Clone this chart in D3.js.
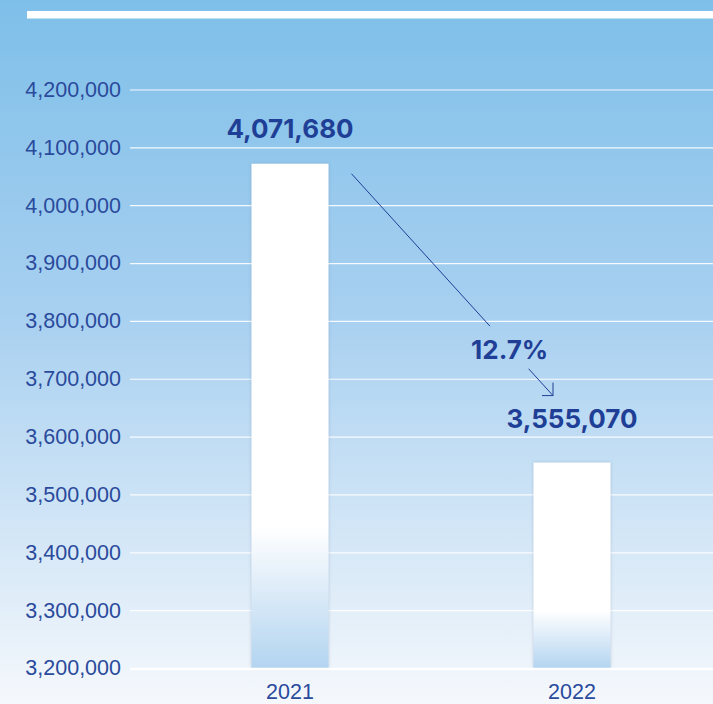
<!DOCTYPE html>
<html>
<head>
<meta charset="utf-8">
<script src="https://cdn.jsdelivr.net/npm/d3@7"></script>
<style>
  html, body { margin: 0; padding: 0; }
  body { width: 713px; height: 704px; overflow: hidden; }
  svg { display: block; font-family: Inter, "Noto Sans", sans-serif; }
</style>
</head>
<body>
<div id="chart"></div>
<script>
// data
const years = ['2021', '2022'];
const visitors = [4071680, 3555070];
const changeLabel = '12.7%';
const yTicks = [3200000, 3300000, 3400000, 3500000, 3600000, 3700000,
  3800000, 3900000, 4000000, 4100000, 4200000];

const width = 713;
const height = 704;
const left = 130;
const textColor = '#2a4a9c';
const boldColor = '#1f3f96';

const svg = d3.select('#chart')
  .append('svg')
  .attr('width', width)
  .attr('height', height);

const defs = svg.append('defs');

// page background
const bg = defs.append('linearGradient')
  .attr('id', 'bg')
  .attr('x1', 0).attr('y1', 0).attr('x2', 0).attr('y2', 1);
bg.append('stop').attr('offset', '0%').attr('stop-color', '#7ebfe9');
bg.append('stop').attr('offset', '45%').attr('stop-color', '#a8d0f0');
bg.append('stop').attr('offset', '100%').attr('stop-color', '#f5f8fc');

// bar fill: white fading to light blue near the base
const barGrad = defs.append('linearGradient')
  .attr('id', 'barFill')
  .attr('x1', 0).attr('y1', 0).attr('x2', 0).attr('y2', 1);
barGrad.append('stop').attr('offset', '0%').attr('stop-color', '#ffffff');
barGrad.append('stop').attr('offset', '72%').attr('stop-color', '#ffffff');
barGrad.append('stop').attr('offset', '100%').attr('stop-color', '#b3d4f0');

const shadow = defs.append('filter')
  .attr('id', 'shadow')
  .attr('x', '-20%').attr('y', '-20%')
  .attr('width', '140%').attr('height', '140%');
shadow.append('feDropShadow')
  .attr('dx', 0).attr('dy', 0)
  .attr('stdDeviation', 1.5)
  .attr('flood-color', '#4a6a90')
  .attr('flood-opacity', 0.35);

svg.append('rect')
  .attr('width', width)
  .attr('height', height)
  .attr('fill', 'url(#bg)');

// top white rule
svg.append('rect')
  .attr('x', 27).attr('y', 11)
  .attr('width', width - 27).attr('height', 7.5)
  .attr('fill', '#ffffff');

const y = d3.scaleLinear()
  .domain([3200000, 4200000])
  .range([668, 89.5]);

const x = d3.scaleBand()
  .domain(years)
  .range([149, 713])
  .paddingInner(0.727)
  .paddingOuter(0.3635);

// y axis with gridlines
const yAxis = svg.append('g')
  .attr('transform', `translate(${left},0)`)
  .call(d3.axisLeft(y)
    .tickValues(yTicks)
    .tickFormat(d3.format(','))
    .tickSize(-(width - left))
    .tickPadding(9));

yAxis.select('.domain').remove();
yAxis.selectAll('.tick line')
  .attr('stroke', '#ffffff')
  .attr('stroke-width', 1.2)
  .attr('stroke-opacity', 0.9);
yAxis.selectAll('.tick text')
  .attr('fill', textColor)
  .attr('font-size', 21.5)
  .attr('font-weight', 300);

// bars
svg.selectAll('.bar')
  .data(years)
  .enter()
  .append('rect')
  .attr('class', 'bar')
  .attr('x', d => x(d))
  .attr('y', (d, i) => y(visitors[i]))
  .attr('width', x.bandwidth())
  .attr('height', (d, i) => y(3200000) - y(visitors[i]))
  .attr('fill', 'url(#barFill)')
  .attr('filter', 'url(#shadow)');

// baseline
svg.append('line')
  .attr('x1', left).attr('x2', width)
  .attr('y1', y(3200000) + 1).attr('y2', y(3200000) + 1)
  .attr('stroke', '#ffffff')
  .attr('stroke-width', 2.5);

// x axis labels
const xAxis = svg.append('g')
  .attr('transform', `translate(0,${y(3200000)})`)
  .call(d3.axisBottom(x).tickSize(0).tickPadding(16));
xAxis.select('.domain').remove();
xAxis.selectAll('.tick text')
  .attr('fill', textColor)
  .attr('font-size', 21.5)
  .attr('font-weight', 300);

// value labels
svg.selectAll('.value')
  .data(years)
  .enter()
  .append('text')
  .attr('class', 'value')
  .attr('x', d => x(d) + x.bandwidth() / 2)
  .attr('y', (d, i) => y(visitors[i]) - (i === 0 ? 26 : 35))
  .attr('text-anchor', 'middle')
  .attr('fill', boldColor)
  .attr('font-size', 26)
  .attr('font-weight', 700)
  .text((d, i) => d3.format(',')(visitors[i]));

// change arrow from first bar down toward second
const p0 = [x(years[0]) + x.bandwidth() + 23, y(visitors[0]) + 10];
const p1 = [x(years[1]) + x.bandwidth() / 2 - 19, y(visitors[1]) - 67];
const at = t => [p0[0] + (p1[0] - p0[0]) * t, p0[1] + (p1[1] - p0[1]) * t];

const arrow = svg.append('g')
  .attr('fill', 'none')
  .attr('stroke', boldColor)
  .attr('stroke-width', 1);

arrow.append('line')
  .attr('x1', p0[0]).attr('y1', p0[1])
  .attr('x2', at(0.687)[0]).attr('y2', at(0.687)[1]);
arrow.append('line')
  .attr('x1', at(0.879)[0]).attr('y1', at(0.879)[1])
  .attr('x2', p1[0]).attr('y2', p1[1]);
arrow.append('polyline')
  .attr('points', [[p1[0], p1[1] - 13], p1, [p1[0] - 11, p1[1]]].map(p => p.join(',')).join(' '));

const mid = at(0.78);
svg.append('text')
  .attr('x', mid[0] + 1)
  .attr('y', mid[1] + 12)
  .attr('text-anchor', 'middle')
  .attr('fill', boldColor)
  .attr('font-size', 26)
  .attr('font-weight', 700)
  .text(changeLabel);
</script>
</body>
</html>
